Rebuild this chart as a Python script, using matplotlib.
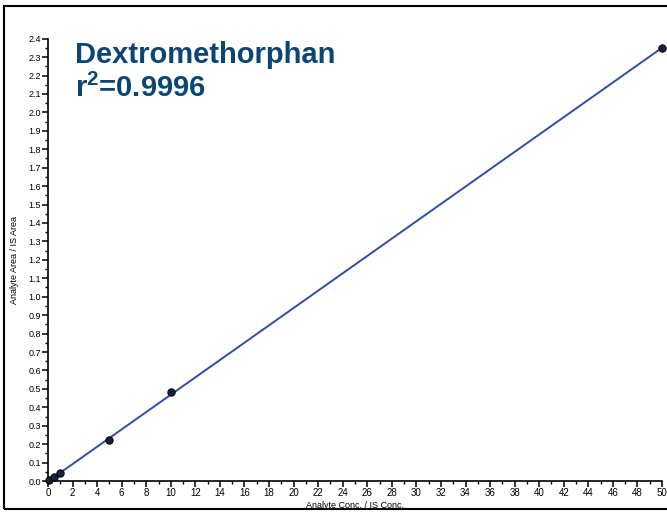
import numpy as np
from matplotlib import pyplot as plt
from matplotlib.patches import Rectangle
from matplotlib.ticker import MultipleLocator

# Calibration standards
conc = [0.1, 0.5, 1, 5, 10, 50]
area_ratio = [0.006, 0.02, 0.043, 0.222, 0.481, 2.349]

compound = 'Dextromethorphan'
r_squared = '0.9996'

line_colour = '#2e4fa3'
point_colour = '#15213f'
title_colour = '#0b4574'

plt.rcParams['font.family'] = ['Liberation Sans', 'DejaVu Sans']
plt.rcParams['mathtext.fontset'] = 'custom'
plt.rcParams['mathtext.rm'] = 'Liberation Sans'
plt.rcParams['mathtext.bf'] = 'Liberation Sans:bold'

fig = plt.figure(figsize=(6.67, 5.12), dpi=100)
ax = fig.add_axes([0.072, 0.0605, 0.9205, 0.864])

# Linear regression line across the full range
slope, intercept = np.polyfit(conc, area_ratio, 1)
fit_x = np.array([0, 50])
ax.plot(fit_x, slope * fit_x + intercept, color=line_colour, lw=1.4, zorder=2)
ax.scatter(conc, area_ratio, s=28, color=point_colour, edgecolor='black', lw=0.7,
           zorder=3, clip_on=False)

ax.set_xlim(0, 50)
ax.set_ylim(0, 2.4)
ax.spines['top'].set_visible(False)
ax.spines['right'].set_visible(False)
ax.spines['left'].set_linewidth(1.2)
ax.spines['bottom'].set_linewidth(1.2)

ax.xaxis.set_major_locator(MultipleLocator(2))
ax.xaxis.set_minor_locator(MultipleLocator(1))
ax.yaxis.set_major_locator(MultipleLocator(0.1))
ax.yaxis.set_minor_locator(MultipleLocator(0.05))
ax.yaxis.set_major_formatter(plt.FuncFormatter(lambda v, _: f'{v:.1f}'))
ax.tick_params(which='major', length=4, width=1.1, labelsize=6.5, pad=1)
ax.tick_params(which='minor', length=2, width=1)
ax.tick_params(axis='x', labelsize=7)

ax.set_xlabel('Analyte Conc. / IS Conc.', fontsize=6.5, labelpad=2)
ax.set_ylabel('Analyte Area / IS Area', fontsize=6.5, labelpad=7)
ax.patch.set_visible(False)

fig.text(0.113, 0.892, compound, fontsize=21, fontweight='bold', color=title_colour, va='center')
fig.text(0.113, 0.827, r'r$^{\mathbf{2}}$=' + r_squared, fontsize=21, fontweight='bold',
         color=title_colour, va='center')

# Outer frame, open on the right
fig.patches.append(Rectangle((0.006, 0.006), 1.1, 0.982, transform=fig.transFigure,
                             fill=False, edgecolor='black', lw=1.5))

fig.savefig('out.png', dpi=100)
